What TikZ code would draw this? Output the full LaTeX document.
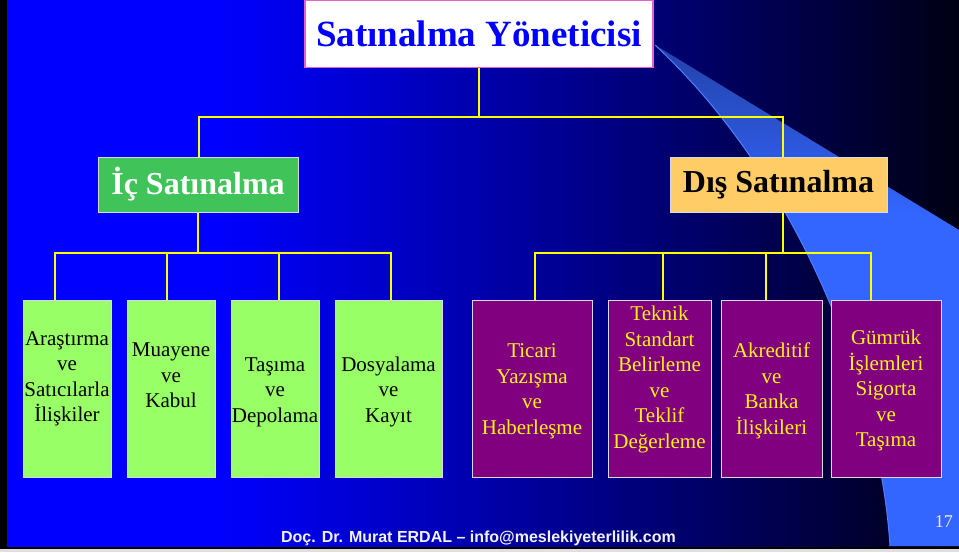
\documentclass[tikz,border=0pt]{standalone}
\usepackage{fontspec}
\setmainfont{Liberation Serif}
\setsansfont{Liberation Sans}
\usetikzlibrary{calc}

\definecolor{bgblue}{HTML}{0000FF}
\definecolor{bgend}{HTML}{000014}
\definecolor{swbright}{HTML}{3366FF}
\definecolor{swdark}{HTML}{2342A8}
\definecolor{swline}{HTML}{4F80FF}
\definecolor{titleblue}{HTML}{0000FF}
\definecolor{titleedge}{HTML}{E860C8}
\definecolor{icgreen}{HTML}{40C45A}
\definecolor{disorange}{HTML}{FFCC66}
\definecolor{leafgreen}{HTML}{99FF66}
\definecolor{leafpurple}{HTML}{800080}
\definecolor{leafedge}{HTML}{D8D8E8}
\definecolor{busyellow}{HTML}{FFFF00}
\definecolor{leaftext}{HTML}{FFF01E}
\definecolor{foottext}{HTML}{F2F2FA}

% slide background: blue fading to black towards the right
\pgfdeclarehorizontalshading{bgshade}{100bp}{color(0bp)=(bgblue); color(25bp)=(bgblue); color(36bp)=(bgblue); color(75bp)=(bgend); color(100bp)=(bgend)}
% swoosh: darker near its tip, bright blue lower down
\pgfdeclareverticalshading{swshade}{100bp}{color(0bp)=(swbright); color(25bp)=(swbright); color(58bp)=(swbright); color(75bp)=(swdark); color(100bp)=(swdark)}

\tikzset{
  conn/.style={draw=busyellow, line width=2pt},
  titlebox/.style={draw=titleedge, line width=1.5pt, fill=white, minimum width=348pt, minimum height=67pt,
    inner sep=0pt, font=\fontsize{37}{40}\selectfont\bfseries, text=titleblue},
  midbox/.style={draw=leafedge, line width=1pt, minimum height=55pt, inner sep=0pt,
    font=\fontsize{32}{36}\selectfont\bfseries},
  gbox/.style={draw=leafedge, line width=1pt, fill=leafgreen, minimum height=177pt, inner sep=0pt},
  pbox/.style={draw=leafedge, line width=1pt, fill=leafpurple, minimum height=177pt, inner sep=0pt},
  gtext/.style={align=center, inner sep=0pt, text=black, font=\fontsize{21}{25.5}\selectfont},
  ptext/.style={align=center, inner sep=0pt, text=leaftext, font=\fontsize{21}{25.5}\selectfont},
}

\begin{document}
\begin{tikzpicture}[x=1pt, y=-1pt]
\useasboundingbox (0,0) rectangle (959,552);

% frame and background
\fill[black] (0,0) rectangle (959,552);
\shade[shading=bgshade] (7,0) rectangle (959,546);
\fill[gray!25] (0,549) rectangle (959,552);

% decorative swoosh on the right
\shade[shading=swshade] (655,45) -- (959,230) -- (959,546) -- (890,546)
  .. controls (880,390) and (800,180) .. (655,45) -- cycle;
\draw[swline, line width=1pt] (890,546) .. controls (880,390) and (800,180) .. (655,45);

% top level
\node[titlebox] (top) at (479,34) {Satınalma Yöneticisi};

% second level
\node[midbox, fill=icgreen, text=white, minimum width=200pt] (ic) at (198,184.5) {İç Satınalma};
\node[midbox, fill=disorange, text=black, minimum width=217pt] (dis) at (778.5,184.5) {Dış Satınalma};

% leaves under İç Satınalma
\node[gbox, minimum width=88pt]  (g1) at (67,388.5) {};
\node[gbox, minimum width=88pt]  (g2) at (171,388.5) {};
\node[gbox, minimum width=88pt]  (g3) at (275,388.5) {};
\node[gbox, minimum width=107pt] (g4) at (388.5,388.5) {};
\node[gtext] (g1t) at (67,378.7)  {Araştırma\\ve\\Satıcılarla\\İlişkiler};
\node[gtext] (g2t) at (171,375.6) {Muayene\\ve\\Kabul};
\node[gtext] (g3t) at (275,392.3) {Taşıma\\ve\\Depolama};
\node[gtext] (g4t) at (388.5,391.7) {Dosyalama\\ve\\Kayıt};

% leaves under Dış Satınalma
\node[pbox, minimum width=120pt] (p1) at (532,388.5) {};
\node[pbox, minimum width=103pt] (p2) at (659.5,388.5) {};
\node[pbox, minimum width=101pt] (p3) at (771.5,388.5) {};
\node[pbox, minimum width=110pt] (p4) at (886,388.5) {};
\node[ptext] (p1t) at (532,391.3)   {Ticari\\Yazışma\\ve\\Haberleşme};
\node[ptext] (p2t) at (659.5,379.7) {Teknik\\Standart\\Belirleme\\ve\\Teklif\\Değerleme};
\node[ptext] (p3t) at (771.5,390.6) {Akreditif\\ve\\Banka\\İlişkileri};
\node[ptext] (p4t) at (886,390.7)   {Gümrük\\İşlemleri\\Sigorta\\ve\\Taşıma};

% connector buses
\coordinate (hub) at (479,117);
\coordinate (busL) at (199,117);
\coordinate (busR) at (783,117);
\draw[conn] (top.south) -- (hub);
\draw[conn] (busL |- ic.north) -- (busL) -- (busR) -- (busR |- dis.north);

\coordinate (i1) at (55,253);
\coordinate (i2) at (167,253);
\coordinate (i3) at (279,253);
\coordinate (i4) at (391,253);
\draw[conn] (ic.south) -- (ic.south |- i1);
\draw[conn] (i1 |- g1.north) -- (i1) -- (i4) -- (i4 |- g4.north);
\draw[conn] (i2) -- (i2 |- g2.north);
\draw[conn] (i3) -- (i3 |- g3.north);

\coordinate (o1) at (535,253);
\coordinate (o2) at (663,253);
\coordinate (o3) at (766,253);
\coordinate (o4) at (871,253);
\draw[conn] (busR |- dis.south) -- (busR |- o1);
\draw[conn] (o1 |- p1.north) -- (o1) -- (o4) -- (o4 |- p4.north);
\draw[conn] (o2) -- (o2 |- p2.north);
\draw[conn] (o3) -- (o3 |- p3.north);

% footer and page number
\node[anchor=base, inner sep=0pt, text=foottext, font=\sffamily\bfseries\fontsize{16}{18}\selectfont] (foot) at (478.5,542)
  {Doç. Dr. Murat ERDAL – info@meslekiyeterlilik.com};
\node[anchor=base east, inner sep=0pt, text=gray!15, font=\fontsize{18}{20}\selectfont] (page) at (953,527) {17};
\end{tikzpicture}
\end{document}
